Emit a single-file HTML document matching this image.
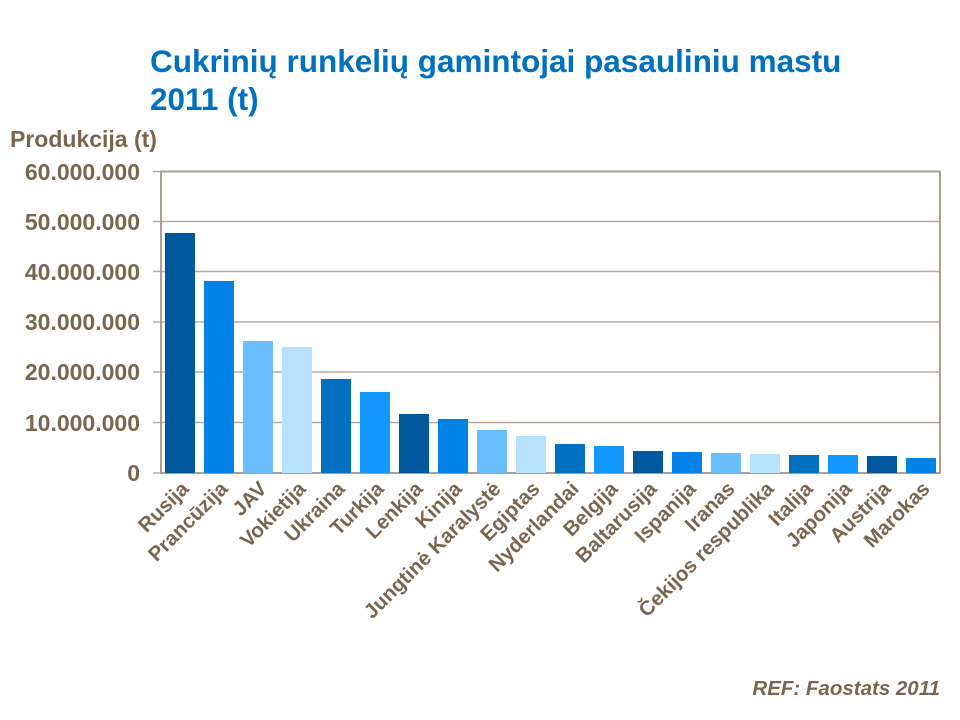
<!DOCTYPE html>
<html><head><meta charset="utf-8"><style>
body{margin:0;background:#fff;}
svg{display:block;font-family:"Liberation Sans",Arial,sans-serif;font-weight:bold;}
</style></head><body>
<svg width="960" height="720" xmlns="http://www.w3.org/2000/svg">
<text x="150" y="72" font-size="31.5" fill="#0070c0">Cukrinių runkelių gamintojai pasauliniu mastu</text>
<text x="150" y="110" font-size="31.5" fill="#0070c0">2011 (t)</text>
<text x="10" y="147" font-size="23" fill="#7a6650">Produkcija (t)</text>
<g stroke="#b5aca2" stroke-width="1.5">
<line x1="161" y1="221.5" x2="940" y2="221.5"/>
<line x1="161" y1="271.5" x2="940" y2="271.5"/>
<line x1="161" y1="322" x2="940" y2="322"/>
<line x1="161" y1="372" x2="940" y2="372"/>
<line x1="161" y1="422.5" x2="940" y2="422.5"/>
<line x1="153" y1="171.5" x2="161" y2="171.5"/>
<line x1="153" y1="221.5" x2="161" y2="221.5"/>
<line x1="153" y1="271.5" x2="161" y2="271.5"/>
<line x1="153" y1="322" x2="161" y2="322"/>
<line x1="153" y1="372" x2="161" y2="372"/>
<line x1="153" y1="422.5" x2="161" y2="422.5"/>
<line x1="153" y1="473" x2="161" y2="473"/>
</g>
<rect x="161" y="171.5" width="779" height="301.5" fill="none" stroke="#aaa096" stroke-width="2"/>
<g font-size="23" fill="#7a6650" text-anchor="end">
<text x="140" y="180">60.000.000</text>
<text x="140" y="230">50.000.000</text>
<text x="140" y="280">40.000.000</text>
<text x="140" y="330">30.000.000</text>
<text x="140" y="380">20.000.000</text>
<text x="140" y="431">10.000.000</text>
<text x="140" y="481">0</text>
</g>
<g>
<rect x="165" y="233" width="30" height="240" fill="#00589c"/>
<rect x="204" y="281" width="30" height="192" fill="#0082e6"/>
<rect x="243" y="341" width="30" height="132" fill="#6abeff"/>
<rect x="282" y="347" width="30" height="126" fill="#b8e0ff"/>
<rect x="321" y="379" width="30" height="94" fill="#0070c0"/>
<rect x="360" y="392" width="30" height="81" fill="#1398ff"/>
<rect x="399" y="414" width="30" height="59" fill="#00589c"/>
<rect x="438" y="419" width="30" height="54" fill="#0082e6"/>
<rect x="477" y="430" width="30" height="43" fill="#6abeff"/>
<rect x="516" y="436" width="30" height="37" fill="#b8e0ff"/>
<rect x="555" y="444" width="30" height="29" fill="#0070c0"/>
<rect x="594" y="446" width="30" height="27" fill="#1398ff"/>
<rect x="633" y="451" width="30" height="22" fill="#00589c"/>
<rect x="672" y="452" width="30" height="21" fill="#0082e6"/>
<rect x="711" y="453" width="30" height="20" fill="#6abeff"/>
<rect x="750" y="454" width="30" height="19" fill="#b8e0ff"/>
<rect x="789" y="455" width="30" height="18" fill="#0070c0"/>
<rect x="828" y="455" width="30" height="18" fill="#1398ff"/>
<rect x="867" y="456" width="30" height="17" fill="#00589c"/>
<rect x="906" y="458" width="30" height="15" fill="#0082e6"/>
</g>
<g font-size="20.5" fill="#7a6650" text-anchor="end">
<text transform="translate(190,490) rotate(-45)">Rusija</text>
<text transform="translate(229,490) rotate(-45)">Prancūzija</text>
<text transform="translate(268,490) rotate(-45)">JAV</text>
<text transform="translate(307,490) rotate(-45)">Vokietija</text>
<text transform="translate(346,490) rotate(-45)">Ukraina</text>
<text transform="translate(385,490) rotate(-45)">Turkija</text>
<text transform="translate(424,490) rotate(-45)">Lenkija</text>
<text transform="translate(463,490) rotate(-45)">Kinija</text>
<text transform="translate(502,490) rotate(-45)">Jungtinė Karalystė</text>
<text transform="translate(541,490) rotate(-45)">Egiptas</text>
<text transform="translate(580,490) rotate(-45)">Nyderlandai</text>
<text transform="translate(619,490) rotate(-45)">Belgija</text>
<text transform="translate(658,490) rotate(-45)">Baltarusija</text>
<text transform="translate(697,490) rotate(-45)">Ispanija</text>
<text transform="translate(736,490) rotate(-45)">Iranas</text>
<text transform="translate(775,490) rotate(-45)">Čekijos respublika</text>
<text transform="translate(814,490) rotate(-45)">Italija</text>
<text transform="translate(853,490) rotate(-45)">Japonija</text>
<text transform="translate(892,490) rotate(-45)">Austrija</text>
<text transform="translate(931,490) rotate(-45)">Marokas</text>
</g>
<text x="940" y="695" font-size="20.5" font-style="italic" fill="#7a6650" text-anchor="end">REF: Faostats 2011</text>
</svg>
</body></html>
